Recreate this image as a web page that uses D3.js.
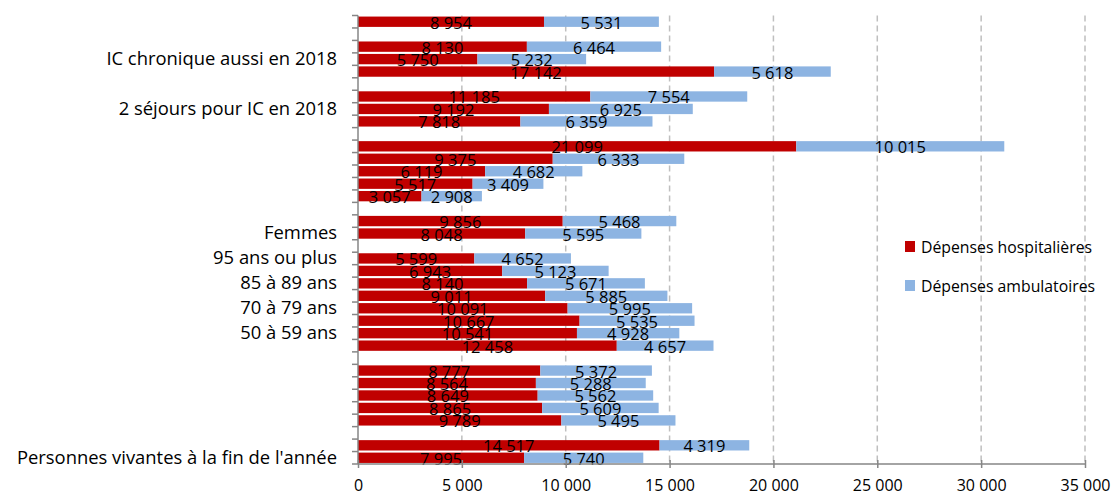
<!DOCTYPE html>
<html>
<head>
<meta charset="utf-8">
<script src="https://cdn.jsdelivr.net/npm/d3@7"></script>
<style>
  html, body { margin: 0; padding: 0; background: #fff; }
  svg { display: block; font-family: "Open Sans", Lato, sans-serif; }
</style>
</head>
<body>
<svg id="chart" width="1115" height="495"></svg>
<script>
// Rows from top to bottom; null values = empty spacer rows; "" = unlabeled row
const categories = [
  "", null, "", "IC chronique aussi en 2018", "", null,
  "", "2 séjours pour IC en 2018", "", null,
  "", "", "", "", "", null,
  "", "Femmes", null,
  "95 ans ou plus", "", "85 à 89 ans", "", "70 à 79 ans", "", "50 à 59 ans", "", null,
  "", "", "", "", "", null,
  "", "Personnes vivantes à la fin de l'année"
];
const hospitalieres = [
  8954, null, 8130, 5750, 17142, null,
  11185, 9192, 7818, null,
  21099, 9375, 6119, 5517, 3057, null,
  9856, 8048, null,
  5599, 6943, 8140, 9011, 10091, 10667, 10541, 12458, null,
  8777, 8564, 8649, 8865, 9789, null,
  14517, 7995
];
const ambulatoires = [
  5531, null, 6464, 5232, 5618, null,
  7554, 6925, 6359, null,
  10015, 6333, 4682, 3409, 2908, null,
  5468, 5595, null,
  4652, 5123, 5671, 5885, 5995, 5535, 4928, 4657, null,
  5372, 5288, 5562, 5609, 5495, null,
  4319, 5740
];
const xTicks = [0, 5000, 10000, 15000, 20000, 25000, 30000, 35000];
const seriesNames = ["Dépenses hospitalières", "Dépenses ambulatoires"];
const seriesColors = ["#C00000", "#8DB4E2"];

(function () {
const svg = d3.select("#chart");
const mL = 358, mR = 1085, mT = 15.5, mB = 464;
const FONT = "'Open Sans', Lato, sans-serif";

const loc = d3.formatLocale({decimal: ",", thousands: "\u00a0", grouping: [3], currency: ["", ""]});
const fmt = loc.format(",d");

const x = d3.scaleLinear().domain([0, 35000]).range([mL, mR]);
const ids = categories.map((d, i) => String(i));
const y = d3.scaleBand().domain(ids).range([mT, mB]).paddingInner(0.17).paddingOuter(0.085);

// gridlines
svg.append("g").selectAll("line").data(xTicks.filter(d => d > 0)).join("line")
  .attr("x1", d => x(d)).attr("x2", d => x(d))
  .attr("y1", mT).attr("y2", mB)
  .attr("stroke", "#BFBFBF").attr("stroke-width", 1.5).attr("stroke-dasharray", "6,4");

const rows = ids.map((id, i) => ({id, h: hospitalieres[i], a: ambulatoires[i]})).filter(r => r.h != null);

const bars = svg.append("g");
bars.selectAll("rect.h").data(rows).join("rect").attr("class", "h")
  .attr("x", x(0)).attr("y", d => y(d.id))
  .attr("width", d => x(d.h) - x(0)).attr("height", y.bandwidth())
  .attr("fill", seriesColors[0]);
bars.selectAll("rect.a").data(rows).join("rect").attr("class", "a")
  .attr("x", d => x(d.h)).attr("y", d => y(d.id))
  .attr("width", d => x(d.h + d.a) - x(d.h)).attr("height", y.bandwidth())
  .attr("fill", seriesColors[1]);

// data labels
const lab = svg.append("g").attr("font-size", 16.5).attr("font-family", FONT).attr("fill", "#000").attr("text-anchor", "middle");
lab.selectAll("text.h").data(rows).join("text").attr("class", "h")
  .attr("x", d => (x(0) + x(d.h)) / 2).attr("y", d => y(d.id) + y.bandwidth() / 2 + 7)
  .text(d => fmt(d.h));
lab.selectAll("text.a").data(rows).join("text").attr("class", "a")
  .attr("x", d => (x(d.h) + x(d.h + d.a)) / 2).attr("y", d => y(d.id) + y.bandwidth() / 2 + 7)
  .text(d => fmt(d.a));

// y axis: labels at band centres, ticks at band boundaries
const yAxis = d3.axisLeft(y).tickSize(0).tickPadding(21).tickFormat((d, i) => categories[i] || "");
const gy = svg.append("g").attr("transform", `translate(${mL},0)`).call(yAxis);
gy.select(".domain").remove();
gy.selectAll("text").attr("font-size", 18.4).attr("fill", "#000").attr("font-family", FONT);
const step = y.step();
const bounds = d3.range(ids.length + 1).map(i => y.range()[0] + i * step);
svg.append("g").selectAll("line").data(bounds).join("line")
  .attr("x1", mL - 6).attr("x2", mL).attr("y1", d => d).attr("y2", d => d)
  .attr("stroke", "#868686").attr("stroke-width", 1.5);
svg.append("line").attr("x1", mL).attr("x2", mL).attr("y1", mT).attr("y2", mB)
  .attr("stroke", "#868686").attr("stroke-width", 1.5);

// x axis
const xAxis = d3.axisBottom(x).tickValues(xTicks).tickSize(4).tickPadding(12).tickFormat(d => fmt(d));
const gx = svg.append("g").attr("transform", `translate(0,${mB})`).call(xAxis);
gx.select(".domain").attr("stroke", "#868686").attr("stroke-width", 1.5).attr("d", `M${mL},0H${mR}`);
gx.selectAll(".tick line").attr("y1", -4).attr("y2", 4).attr("stroke", "#868686").attr("stroke-width", 1.5);
gx.selectAll("text").attr("font-size", 16).attr("fill", "#000").attr("font-family", FONT);

// legend
const lg = svg.append("g").attr("transform", "translate(905,241)");
seriesNames.forEach((name, i) => {
  const g = lg.append("g").attr("transform", `translate(0,${i * 39})`);
  g.append("rect").attr("width", 10).attr("height", 11).attr("fill", seriesColors[i]);
  g.append("text").attr("x", 16).attr("y", 11.5).attr("font-size", 15.8).attr("font-family", FONT).attr("fill", "#000").text(name);
});
})();
</script>
</body>
</html>
